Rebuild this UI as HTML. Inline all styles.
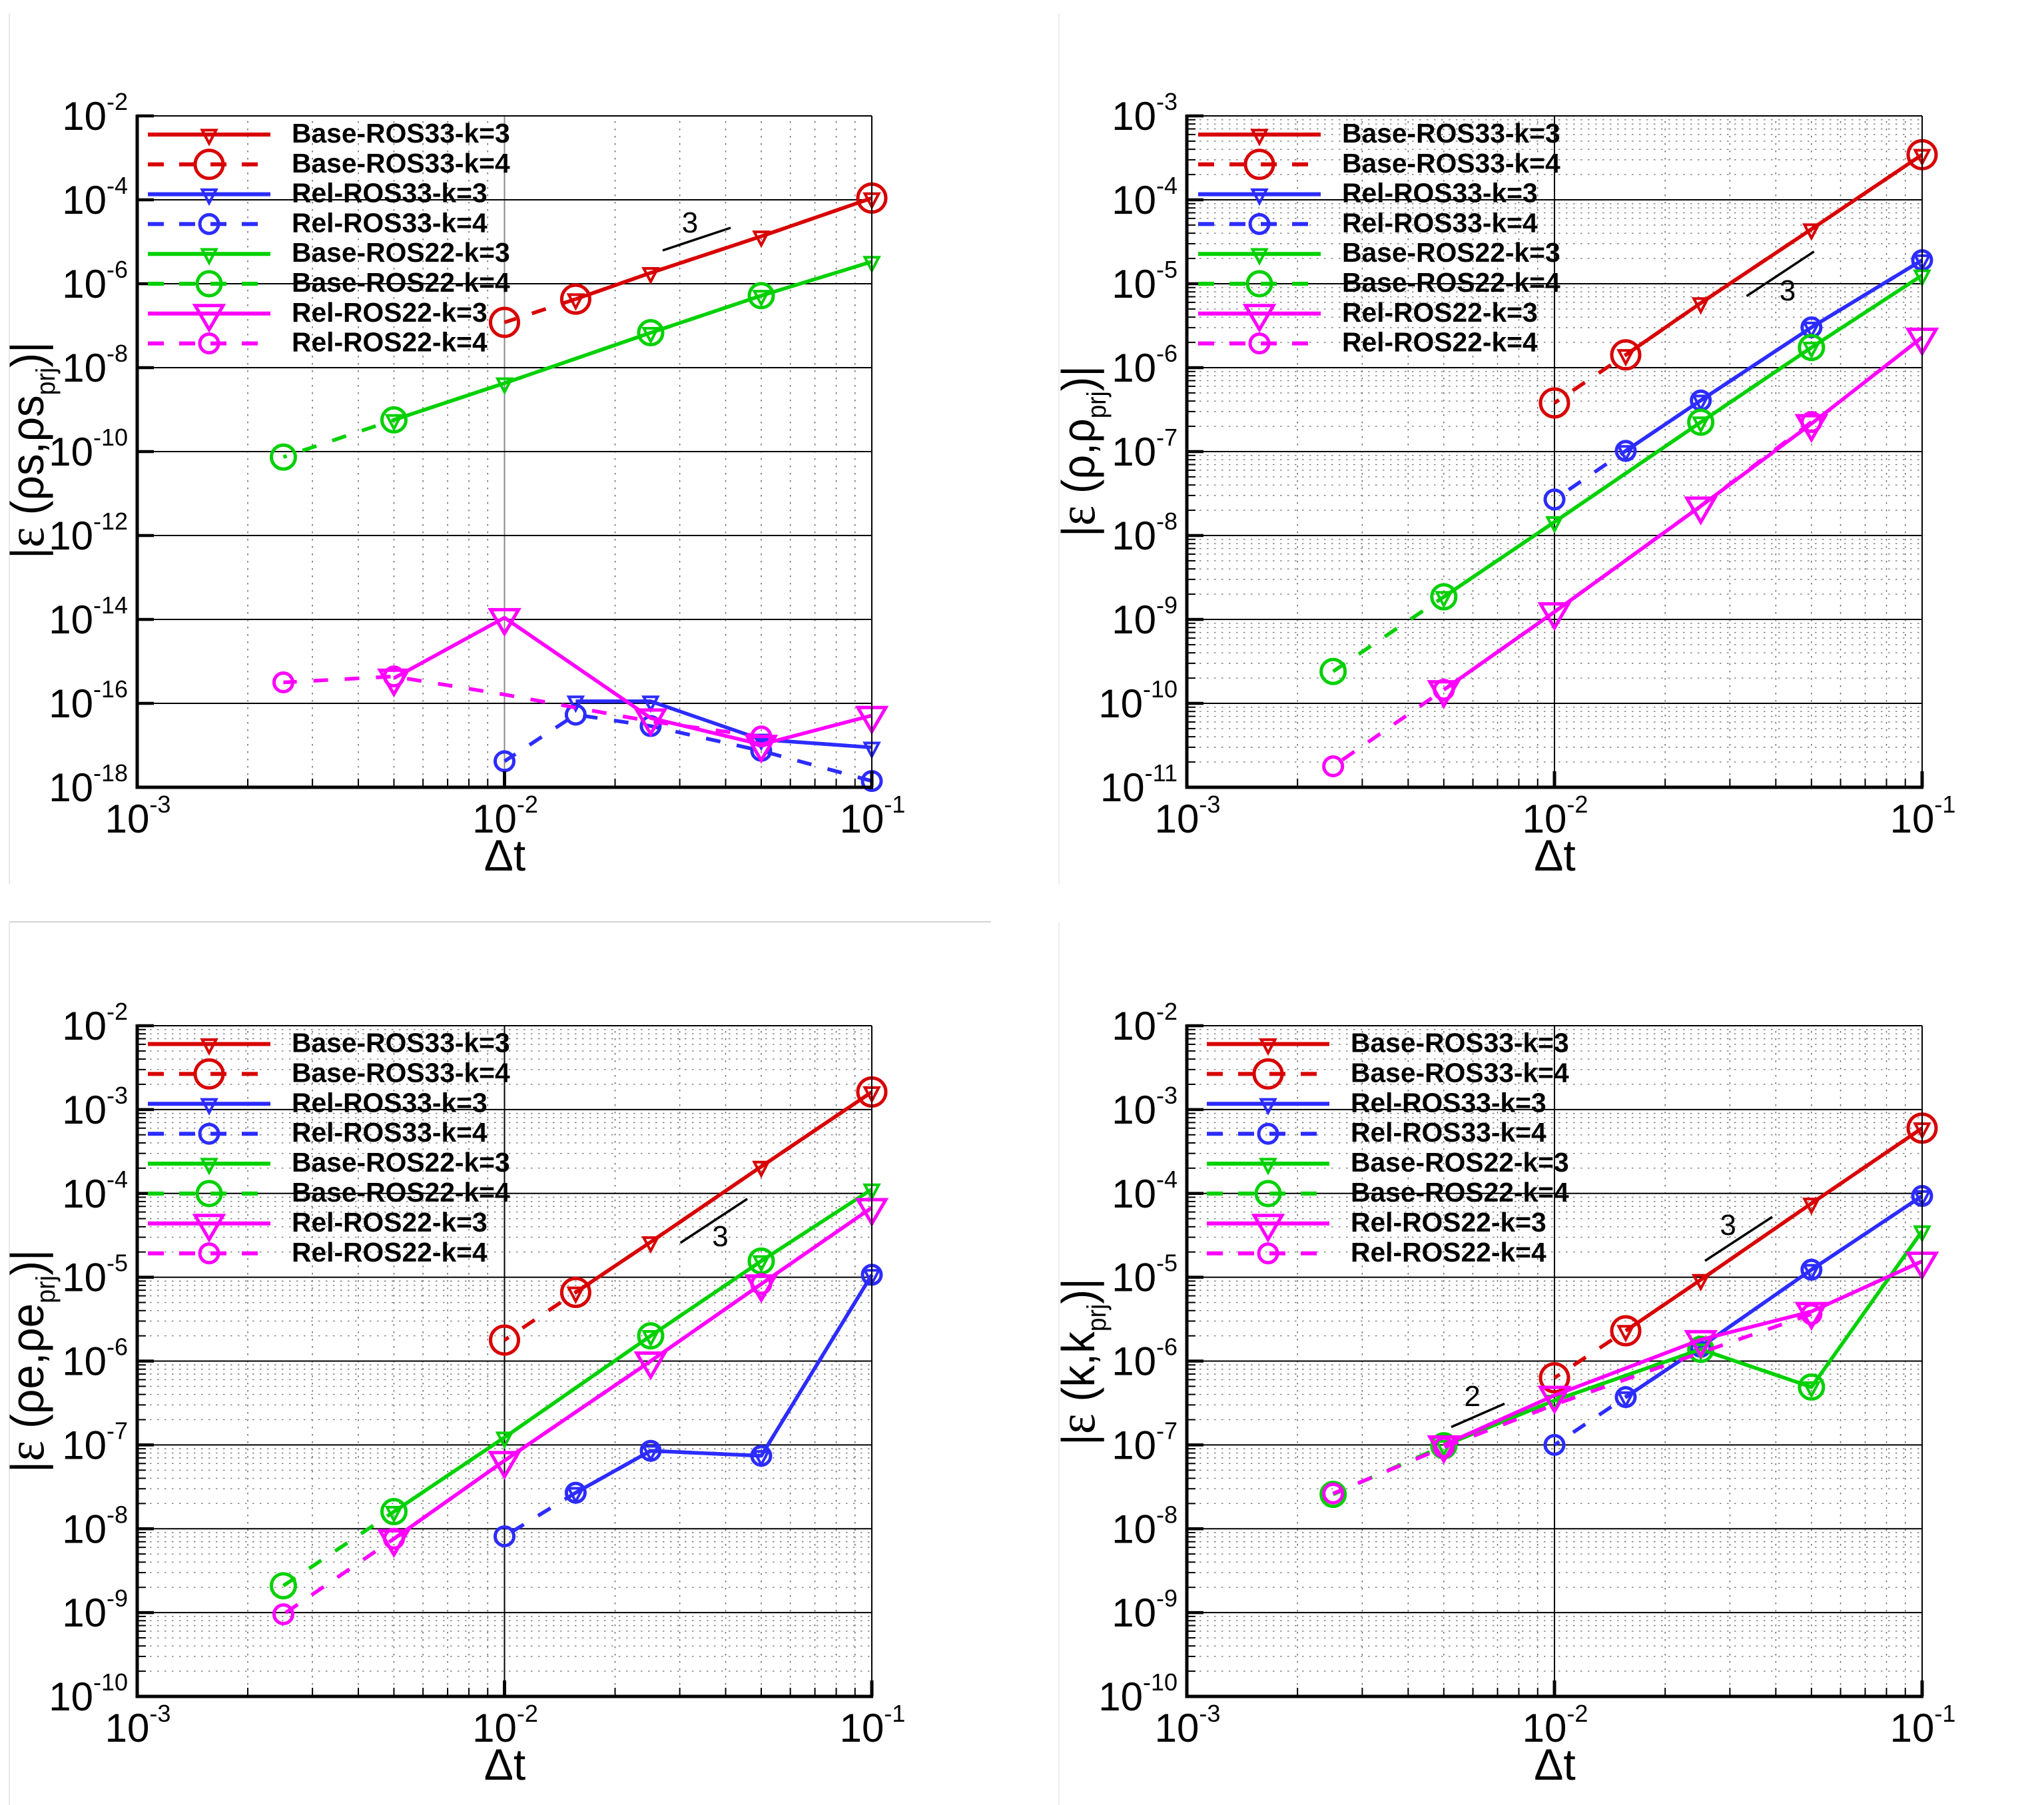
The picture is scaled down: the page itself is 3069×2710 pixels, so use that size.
<!DOCTYPE html>
<html lang="en">
<head>
<meta charset="utf-8">
<title>Error convergence panels</title>
<style>
html,body{margin:0;padding:0;background:#fff;}
svg{display:block;}
text{font-family:"Liberation Sans",sans-serif;fill:#000;}
</style>
</head>
<body>
<svg id="figure" xmlns="http://www.w3.org/2000/svg" width="3069" height="2710" viewBox="0 0 3069 2710">
<rect x="0" y="0" width="3069" height="2710" fill="#fff"/>
<line x1="14" y1="20" x2="14" y2="1327" stroke="#e8e8e8" stroke-width="2"/>
<line x1="1590" y1="20" x2="1590" y2="1327" stroke="#eeeeee" stroke-width="2"/>
<line x1="14" y1="1385" x2="14" y2="2710" stroke="#e8e8e8" stroke-width="2"/>
<line x1="1590" y1="1385" x2="1590" y2="2710" stroke="#eeeeee" stroke-width="2"/>
<line x1="14" y1="1384" x2="1488" y2="1384" stroke="#d4d4d4" stroke-width="2"/>
</svg>
<script>
// Time steps per series
const dtBase33K3 = [0.1, 0.05, 0.025, 0.015625];
const dtBase33K4 = [0.1, 0.05, 0.025, 0.015625, 0.01];
const dtRel33K3 = [0.1, 0.05, 0.025, 0.015625];
const dtRel33K4 = [0.1, 0.05, 0.025, 0.015625, 0.01];
const dtBase22K3 = [0.1, 0.05, 0.025, 0.01, 0.005];
const dtBase22K4 = [0.05, 0.025, 0.01, 0.005, 0.0025];
const dtRel22K3 = [0.1, 0.05, 0.025, 0.01, 0.005];
const dtRel22K4 = [0.05, 0.025, 0.01, 0.005, 0.0025];
// Time steps where a series draws its line but no symbol
const dtBase33K4NoSymbol = [0.05, 0.025];
const dtBase22K4NoSymbol = [0.01];
const dtRel22K4NoSymbol = [0.025, 0.01];

// Legend names
const seriesNames = ['Base-ROS33-k=3','Base-ROS33-k=4','Rel-ROS33-k=3','Rel-ROS33-k=4','Base-ROS22-k=3','Base-ROS22-k=4','Rel-ROS22-k=3','Rel-ROS22-k=4'];

// Panel 1: error in rho s
const rhoSBase33K3 = [1.1e-4, 1.35e-5, 1.82e-6, 4.3e-7];
const rhoSBase33K4 = [1.1e-4, 1.35e-5, 1.82e-6, 4.3e-7, 1.2e-7];
const rhoSRel33K3 = [8.9e-18, 1.38e-17, 1.12e-16, 1.12e-16];
const rhoSRel33K4 = [1.41e-18, 7.4e-18, 2.88e-17, 5.37e-17, 4.17e-18];
const rhoSBase22K3 = [3.35e-6, 5.2e-7, 6.8e-8, 4.27e-9, 5.7e-10];
const rhoSBase22K4 = [5.2e-7, 6.8e-8, 4.27e-9, 5.7e-10, 7.41e-11];
const rhoSRel22K3 = [5.13e-17, 1.05e-17, 4.47e-17, 1.1e-14, 3.98e-16];
const rhoSRel22K4 = [1.62e-17, 3.72e-17, 1.62e-16, 4.37e-16, 3.16e-16];

// Panel 2: error in rho
const rhoBase33K3 = [3.45e-4, 4.47e-5, 5.89e-6, 1.42e-6];
const rhoBase33K4 = [3.45e-4, 4.47e-5, 5.89e-6, 1.42e-6, 3.8e-7];
const rhoRel33K3 = [1.91e-5, 3.02e-6, 4.07e-7, 1.02e-7];
const rhoRel33K4 = [1.91e-5, 3.02e-6, 4.07e-7, 1.02e-7, 2.69e-8];
const rhoBase22K3 = [1.26e-5, 1.74e-6, 2.24e-7, 1.45e-8, 1.86e-9];
const rhoBase22K4 = [1.74e-6, 2.24e-7, 1.45e-8, 1.86e-9, 2.4e-10];
const rhoRel22K3 = [2.3e-6, 2.15e-7, 2.24e-8, 1.23e-9, 1.45e-10];
const rhoRel22K4 = [2.25e-7, 2.25e-8, 1.23e-9, 1.45e-10, 1.78e-11];

// Panel 3: error in rho e
const rhoEBase33K3 = [1.62e-3, 2.09e-4, 2.63e-5, 6.6e-6];
const rhoEBase33K4 = [1.62e-3, 2.09e-4, 2.63e-5, 6.6e-6, 1.78e-6];
const rhoERel33K3 = [1.07e-5, 7.41e-8, 8.51e-8, 2.69e-8];
const rhoERel33K4 = [1.07e-5, 7.41e-8, 8.51e-8, 2.69e-8, 8.13e-9];
const rhoEBase22K3 = [1.12e-4, 1.56e-5, 2.0e-6, 1.23e-7, 1.6e-8];
const rhoEBase22K4 = [1.56e-5, 2.0e-6, 1.23e-7, 1.6e-8, 2.09e-9];
const rhoERel22K3 = [6.76e-5, 8.3e-6, 1.0e-6, 6.5e-8, 7.6e-9];
const rhoERel22K4 = [8.3e-6, 1.0e-6, 6.5e-8, 7.6e-9, 9.55e-10];

// Panel 4: error in k
const kBase33K3 = [6.0e-4, 7.59e-5, 9.33e-6, 2.3e-6];
const kBase33K4 = [6.0e-4, 7.59e-5, 9.33e-6, 2.3e-6, 6.31e-7];
const kRel33K3 = [9.33e-5, 1.23e-5, 1.48e-6, 3.72e-7];
const kRel33K4 = [9.33e-5, 1.23e-5, 1.48e-6, 3.72e-7, 1.0e-7];
const kBase22K3 = [3.55e-5, 4.9e-7, 1.38e-6, 3.39e-7, 9.77e-8];
const kBase22K4 = [4.9e-7, 1.38e-6, 3.39e-7, 9.77e-8, 2.57e-8];
const kRel22K3 = [1.55e-5, 3.9e-6, 1.8e-6, 3.9e-7, 1.0e-7];
const kRel22K4 = [3.63e-6, 1.26e-6, 3.02e-7, 9.33e-8, 2.63e-8];

// Axis tick exponents
const xTickExponents = [-3, -2, -1];
const yTicksRhoS = [-2, -4, -6, -8, -10, -12, -14, -16, -18];
const yTicksRho = [-3, -4, -5, -6, -7, -8, -9, -10, -11];
const yTicksRhoE = [-2, -3, -4, -5, -6, -7, -8, -9, -10];
const yTicksK = [-2, -3, -4, -5, -6, -7, -8, -9, -10];

const SVGNS = 'http://www.w3.org/2000/svg';
const figure = document.getElementById('figure');
const minorFactors = [2,3,4,5,6,7,8,9];
const dtAll = [dtBase33K3, dtBase33K4, dtRel33K3, dtRel33K4, dtBase22K3, dtBase22K4, dtRel22K3, dtRel22K4];
const noSymbolAll = [[], dtBase33K4NoSymbol, [], [], [], dtBase22K4NoSymbol, [], dtRel22K4NoSymbol];
const drawOrder = [1,0,3,2,5,4,7,6];
const colors = ['#d80000','#d80000','#2c2cff','#2c2cff','#00d000','#00d000','#ff00ff','#ff00ff'];
const dashed = [false,true,false,true,false,true,false,true];
const symbols = ['tri-s','circle-l','tri-s','circle-s','tri-s','circle-m','tri-l','circle-s'];

function mk(tag, attrs, parent) {
  const el = document.createElementNS(SVGNS, tag);
  for (const k in attrs) el.setAttribute(k, attrs[k]);
  parent.appendChild(el);
  return el;
}

function drawSymbol(parent, kind, x, y, color, name) {
  let el;
  if (kind.indexOf('circle') === 0) {
    const r = kind === 'circle-l' ? 21 : (kind === 'circle-m' ? 18 : 14);
    el = mk('circle', {cx:x, cy:y, r:r, fill:'none', stroke:color, 'stroke-width':5}, parent);
  } else {
    const big = kind === 'tri-l';
    const w = big ? 42 : 21;
    const h = big ? 36 : 20;
    const pts = (x-w/2)+','+(y-h/3)+' '+(x+w/2)+','+(y-h/3)+' '+x+','+(y+2*h/3);
    el = mk('polygon', {points:pts, fill:'none', stroke:color, 'stroke-width':big?5:4, 'stroke-linejoin':'miter'}, parent);
  }
  
  
}

function drawPanel(p) {
  const g = mk('g', {}, figure);
  
  
  const yMax = p.yTicks[0];
  const yMin = p.yTicks[p.yTicks.length-1];
  const xScale = function(v){ return p.left + (Math.log10(v)+3)/2*(p.right-p.left); };
  const yScale = function(v){ return p.top + (yMax-Math.log10(v))/(yMax-yMin)*(p.bottom-p.top); };

  const grid = mk('g', {}, g);
  
  
  // vertical minor grid + x minor ticks
  for (let d = -3; d < -1; d++) {
    minorFactors.forEach(function(f){
      const x = xScale(f*Math.pow(10,d));
      const gl = mk('line', {x1:x, y1:p.top+8, x2:x, y2:p.bottom-14, stroke:'#666', 'stroke-width':1.5, 'stroke-dasharray':'2.5 8.5'}, grid);
      
      
    });
  }
  // horizontal minor grid
  if (p.minorY) {
    for (let d = yMin; d < yMax; d++) {
      minorFactors.forEach(function(f){
        const y = yScale(f*Math.pow(10,d));
        const gl = mk('line', {x1:p.left+8, y1:y, x2:p.right, y2:y, stroke:'#777', 'stroke-width':1.4, 'stroke-dasharray':'2.5 8.5'}, grid);
        
        
      });
    }
  }
  // major gridlines
  const vg = mk('line', {x1:xScale(0.01), y1:p.top, x2:xScale(0.01), y2:p.bottom, stroke:p.majorXColor, 'stroke-width':2}, grid);
  
  
  p.yTicks.forEach(function(e){
    const y = yScale(Math.pow(10,e));
    const gl = mk('line', {x1:p.left, y1:y, x2:p.right, y2:y, stroke:'#000', 'stroke-width':2}, grid);
    
    
  });

  // series
  drawOrder.forEach(function(i){
    const vals = p.series[i];
    const sg = mk('g', {}, g);
    
    
    const dts = dtAll[i];
    const pts = vals.map(function(v, j){ return xScale(dts[j]) + ',' + yScale(v); }).join(' ');
    const attrs = {points:pts, fill:'none', stroke:colors[i], 'stroke-width':5.5, 'stroke-linejoin':'round'};
    if (dashed[i]) attrs['stroke-dasharray'] = '22 25';
    const pl = mk('polyline', attrs, sg);
    
    
    vals.forEach(function(v, j){
      if (noSymbolAll[i].indexOf(dts[j]) >= 0) return;
      drawSymbol(sg, symbols[i], xScale(dts[j]), yScale(v), colors[i], 'series-point');
    });
  });

  // axes
  const axes = mk('g', {}, g);
  
  
  const top = mk('line', {x1:p.left, y1:p.top, x2:p.right, y2:p.top, stroke:'#000', 'stroke-width':2}, axes);
  
  
  const right = mk('line', {x1:p.right, y1:p.top, x2:p.right, y2:p.bottom, stroke:'#000', 'stroke-width':2}, axes);
  
  
  const leftAxis = mk('line', {x1:p.left, y1:p.top-2, x2:p.left, y2:p.bottom+2.5, stroke:'#000', 'stroke-width':5}, axes);
  
  
  const bottomAxis = mk('line', {x1:p.left-2.5, y1:p.bottom, x2:p.right+2, y2:p.bottom, stroke:'#000', 'stroke-width':5}, axes);
  
  

  for (let d = -3; d < -1; d++) {
    minorFactors.forEach(function(f){
      const x = xScale(f*Math.pow(10,d));
      const t = mk('line', {x1:x, y1:p.bottom, x2:x, y2:p.bottom-13, stroke:'#000', 'stroke-width':2}, axes);
      
      
    });
  }
  if (p.minorY) {
    for (let d = yMin; d < yMax; d++) {
      minorFactors.forEach(function(f){
        const y = yScale(f*Math.pow(10,d));
        const t = mk('line', {x1:p.left, y1:y, x2:p.left+13, y2:y, stroke:'#000', 'stroke-width':2}, axes);
        
        
      });
    }
  }
  xTickExponents.forEach(function(e){
    const x = xScale(Math.pow(10,e));
    const t = mk('line', {x1:x, y1:p.bottom, x2:x, y2:p.bottom-24, stroke:'#000', 'stroke-width':5}, axes);
    
    
    const lab = mk('text', {x:x+1, y:p.bottom+68, 'text-anchor':'middle', 'font-size':60}, axes);
    
    
    const a = mk('tspan', {}, lab); a.textContent = '10';
    const b = mk('tspan', {dy:-30, 'font-size':36}, lab); b.textContent = String(e);
  });
  p.yTicks.forEach(function(e){
    const y = yScale(Math.pow(10,e));
    const t = mk('line', {x1:p.left, y1:y, x2:p.left+25, y2:y, stroke:'#000', 'stroke-width':4.5}, axes);
    
    
    const lab = mk('text', {x:p.left-14, y:y+21, 'text-anchor':'end', 'font-size':60}, axes);
    
    
    const a = mk('tspan', {}, lab); a.textContent = '10';
    const b = mk('tspan', {dy:-30, 'font-size':36}, lab); b.textContent = String(e);
  });

  // axis titles
  const xt = mk('text', {x:(p.left+p.right)/2+0.5, y:p.bottom+125, 'text-anchor':'middle', 'font-size':66}, g);
  
  
  xt.textContent = 'Δt';

  const yt = mk('text', {transform:'translate('+p.titleX+','+p.titleY+') rotate(-90)', 'font-size':70, textLength:p.titleLen, lengthAdjust:'spacingAndGlyphs'}, g);
  
  
  const s0 = mk('tspan', {}, yt); s0.textContent = '|';
  const s1 = mk('tspan', {'font-family':'"Liberation Serif",serif', 'font-size':78}, yt); s1.textContent = 'ε';
  const s2 = mk('tspan', {}, yt); s2.textContent = ' (' + p.titleBody;
  const s3 = mk('tspan', {dy:17, 'font-size':40}, yt); s3.textContent = 'prj';
  const s4 = mk('tspan', {dy:-17}, yt); s4.textContent = ')|';

  // legend
  const lg = mk('g', {}, g);
  
  
  seriesNames.forEach(function(nm, i){
    const y = p.legendY + i*p.legendStep;
    const entry = mk('g', {}, lg);
    
    
    const la = {x1:p.legendX, y1:y, x2:p.legendX+(dashed[i]?p.legendDashLen:184), y2:y, stroke:colors[i], 'stroke-width':6};
    if (dashed[i]) la['stroke-dasharray'] = '24 23';
    const ll = mk('line', la, entry);
    
    
    drawSymbol(entry, symbols[i], p.legendX+92, y, colors[i], 'legend-symbol');
    const lt = mk('text', {x:p.legendTextX, y:y+12, 'font-size':40.8, 'font-weight':'bold'}, entry);
    
    
    lt.textContent = nm;
  });

  // slope annotations
  p.slopes.forEach(function(s){
    const sl = mk('line', {x1:s.x1, y1:s.y1, x2:s.x2, y2:s.y2, stroke:'#000', 'stroke-width':3.5}, g);
    
    
    const st = mk('text', {x:s.tx, y:s.ty+16, 'text-anchor':'middle', 'font-size':44}, g);
    
    
    st.textContent = s.label;
  });
}

drawPanel({
  name:'panel-rho-s', left:206, right:1309, top:174, bottom:1182, yTicks:yTicksRhoS, minorY:false, majorXColor:'#888',
  series:[rhoSBase33K3,rhoSBase33K4,rhoSRel33K3,rhoSRel33K4,rhoSBase22K3,rhoSBase22K4,rhoSRel22K3,rhoSRel22K4],
  titleBody:'ρs,ρs', titleX:65, titleY:839, titleLen:326,
  legendX:222, legendY:202, legendStep:44.8, legendDashLen:165, legendTextX:438,
  slopes:[{x1:995,y1:376,x2:1097,y2:342,tx:1036,ty:333,label:'3'}]
});
drawPanel({
  name:'panel-rho', left:1782, right:2886, top:174, bottom:1182, yTicks:yTicksRho, minorY:true, majorXColor:'#000',
  series:[rhoBase33K3,rhoBase33K4,rhoRel33K3,rhoRel33K4,rhoBase22K3,rhoBase22K4,rhoRel22K3,rhoRel22K4],
  titleBody:'ρ,ρ', titleX:1643, titleY:806, titleLen:257,
  legendX:1799, legendY:202, legendStep:44.8, legendDashLen:165, legendTextX:2015,
  slopes:[{x1:2622.5,y1:444.6,x2:2723.6,y2:377.7,tx:2684,ty:435,label:'3'}]
});
drawPanel({
  name:'panel-rho-e', left:206, right:1309, top:1540, bottom:2547, yTicks:yTicksRhoE, minorY:true, majorXColor:'#000',
  series:[rhoEBase33K3,rhoEBase33K4,rhoERel33K3,rhoERel33K4,rhoEBase22K3,rhoEBase22K4,rhoERel22K3,rhoERel22K4],
  titleBody:'ρe,ρe', titleX:65, titleY:2211, titleLen:335,
  legendX:222, legendY:1567.5, legendStep:44.9, legendDashLen:184, legendTextX:438,
  slopes:[{x1:1021.6,y1:1866,x2:1122,y2:1800,tx:1081.5,ty:1855,label:'3'}]
});
drawPanel({
  name:'panel-k', left:1782, right:2886, top:1540, bottom:2547, yTicks:yTicksK, minorY:true, majorXColor:'#000',
  series:[kBase33K3,kBase33K4,kRel33K3,kRel33K4,kBase22K3,kBase22K4,kRel22K3,kRel22K4],
  titleBody:'k,k', titleX:1643, titleY:2170, titleLen:251,
  legendX:1812, legendY:1567.5, legendStep:44.9, legendDashLen:184, legendTextX:2028,
  slopes:[
    {x1:2560,y1:1893,x2:2661,y2:1827,tx:2594.6,ty:1838,label:'3'},
    {x1:2179,y1:2142.5,x2:2259,y2:2107.5,tx:2210.6,ty:2095,label:'2'}
  ]
});
</script>
</body>
</html>
